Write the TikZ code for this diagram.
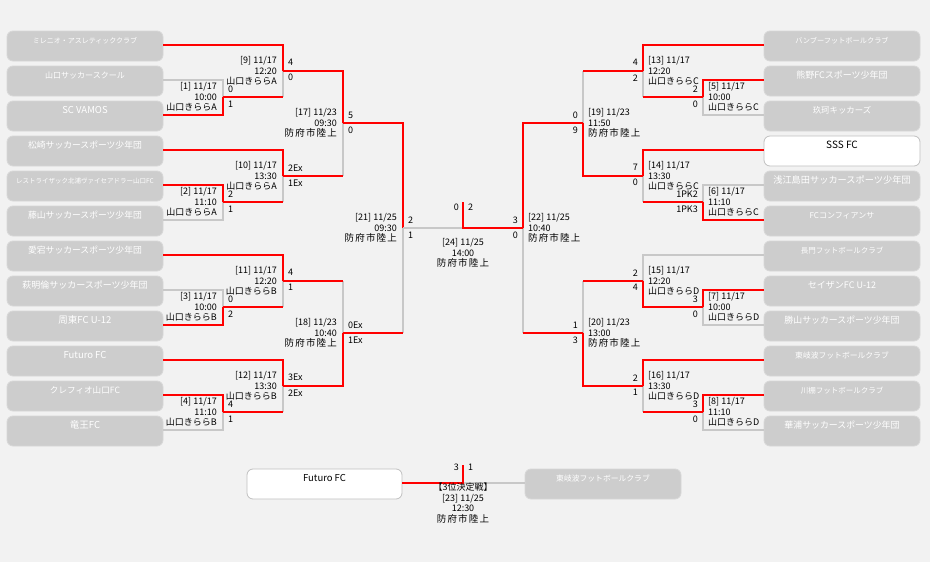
\documentclass[tikz,border=0pt]{standalone}
\usepackage{fontspec}
\setmainfont{Noto Sans CJK JP}
\newfontfamily\jpsp[LetterSpace=12]{Noto Sans CJK JP}
\usetikzlibrary{calc}
\definecolor{bg}{HTML}{F2F2F2}
\definecolor{bred}{HTML}{FF0000}
\definecolor{bgray}{HTML}{C8C8C8}
\definecolor{boxfill}{HTML}{CDCDCD}
\definecolor{boxedge}{HTML}{D8D8D8}
\definecolor{wedge}{HTML}{C0C0C0}
\newcommand\fsz[1]{\fontsize{#1}{#1}\selectfont}
\newcommand\venue{{\jpsp\fontsize{9.5}{10.5}\selectfont 防府市陸上}}
\begin{document}
\begin{tikzpicture}[x=1pt,y=-1pt,
 tbox/.style={rectangle, rounded corners=6pt, minimum width=156pt, minimum height=30pt, inner sep=0pt, text height=12pt, text depth=18pt, fill=boxfill, draw=boxedge, line width=0.8pt, text=white, font=\fsz{9.5}},
 wbox/.style={tbox, fill=white, draw=wedge, text=black},
 win/.style={draw=bred, line width=2pt},
 lose/.style={draw=bgray, line width=2pt},
 mlab/.style={inner sep=0pt, font=\fontsize{9}{10.5}\selectfont},
 mlabL/.style={mlab, anchor=east, align=right},
 mlabR/.style={mlab, anchor=west, align=left},
 sc/.style={inner sep=0pt, font=\fontsize{9}{10}\selectfont},
]
\useasboundingbox (0,0) rectangle (930,562);
\fill[bg] (0,0) rectangle (930,562);

% ---------- team boxes, left ----------
\node[tbox, font=\fsz{7}]   (L1)  at (85,46)  {ミレニオ・アスレティッククラブ};
\node[tbox, font=\fsz{8}]   (L2)  at (85,81)  {山口サッカースクール};
\node[tbox]                 (L3)  at (85,116) {SC VAMOS};
\node[tbox, font=\fsz{8.8}] (L4)  at (85,151) {松崎サッカースポーツ少年団};
\node[tbox, font=\fsz{6.5}] (L5)  at (85,186) {レストライザック北浦ヴァイセアドラー山口FC};
\node[tbox, font=\fsz{8.8}] (L6)  at (85,221) {藤山サッカースポーツ少年団};
\node[tbox, font=\fsz{8.8}] (L7)  at (85,256) {愛宕サッカースポーツ少年団};
\node[tbox, font=\fsz{9}]   (L8)  at (85,291) {萩明倫サッカースポーツ少年団};
\node[tbox]                 (L9)  at (85,326) {周東FC U-12};
\node[tbox]                 (L10) at (85,361) {Futuro FC};
\node[tbox, font=\fsz{8.6}] (L11) at (85,396) {クレフィオ山口FC};
\node[tbox]                 (L12) at (85,431) {竜王FC};
% ---------- team boxes, right ----------
\node[tbox, font=\fsz{7.2}] (R1)  at (842,46)  {バンブーフットボールクラブ};
\node[tbox, font=\fsz{9}]   (R2)  at (842,81)  {熊野FCスポーツ少年団};
\node[tbox, font=\fsz{8.4}] (R3)  at (842,116) {玖珂キッカーズ};
\node[wbox, font=\fsz{10}]  (R4)  at (842,151) {SSS FC};
\node[tbox, font=\fsz{9.2}] (R5)  at (842,186) {浅江島田サッカースポーツ少年団};
\node[tbox, font=\fsz{8}]   (R6)  at (842,221) {FCコンフィアンサ};
\node[tbox, font=\fsz{7.5}] (R7)  at (842,256) {長門フットボールクラブ};
\node[tbox, font=\fsz{9}]   (R8)  at (842,291) {セイザンFC U-12};
\node[tbox, font=\fsz{8.9}] (R9)  at (842,326) {勝山サッカースポーツ少年団};
\node[tbox, font=\fsz{7.8}] (R10) at (842,361) {東岐波フットボールクラブ};
\node[tbox, font=\fsz{7.5}] (R11) at (842,396) {川棚フットボールクラブ};
\node[tbox, font=\fsz{8.9}] (R12) at (842,431) {華浦サッカースポーツ少年団};
% 3rd place boxes
\node[wbox, minimum width=155pt] (F3) at (324.5,484) {Futuro FC};
\node[tbox, font=\fsz{7.8}]      (T3) at (603,484)   {東岐波フットボールクラブ};

% entry points
\foreach \i in {1,...,12}{
  \coordinate (eL\i) at ([yshift=1.5pt]L\i.east);
  \coordinate (eR\i) at ([yshift=1.5pt]R\i.west);
}
\coordinate (eF3) at ([yshift=1.5pt]F3.east);
\coordinate (eT3) at ([yshift=1.5pt]T3.west);

% match points
\coordinate (m1) at (223,97);   \coordinate (m2) at (223,202);
\coordinate (m3) at (223,307);  \coordinate (m4) at (223,412);
\coordinate (m9) at (283,70.75);  \coordinate (m10) at (283,175.75);
\coordinate (m11) at (283,280.75); \coordinate (m12) at (283,385.75);
\coordinate (m17) at (343,123.25); \coordinate (m18) at (343,333.25);
\coordinate (m21) at (403,228.25);
\coordinate (m5) at (703,97);   \coordinate (m6) at (703,202);
\coordinate (m7) at (703,307);  \coordinate (m8) at (703,412);
\coordinate (m13) at (643,70.75);  \coordinate (m14) at (643,175.75);
\coordinate (m15) at (643,280.75); \coordinate (m16) at (643,385.75);
\coordinate (m19) at (583,123.25); \coordinate (m20) at (583,333.25);
\coordinate (m22) at (523,228.25);
\coordinate (fc) at (463,228.25); \coordinate (ft) at (463,202);
\coordinate (tc) at (463,482.5);  \coordinate (tt) at (463,465);

% ---------- left bracket ----------
\draw[lose] (eL2) -| (m1);  \draw[win] (eL3) -| (m1);
\draw[lose] (eL6) -| (m2);  \draw[win] (eL5) -| (m2);
\draw[lose] (eL8) -| (m3);  \draw[win] (eL9) -| (m3);
\draw[lose] (eL12) -| (m4); \draw[win] (eL11) -| (m4);
\draw[lose] (m1 -| m9) -- (m9);   \draw[win] (m1) -- (m1 -| m9);   \draw[win] (eL1) -| (m9);
\draw[lose] (m2 -| m10) -- (m10); \draw[win] (m2) -- (m2 -| m10);  \draw[win] (eL4) -| (m10);
\draw[lose] (m3 -| m11) -- (m11); \draw[win] (m3) -- (m3 -| m11);  \draw[win] (eL7) -| (m11);
\draw[lose] (m4 -| m12) -- (m12); \draw[win] (m4) -- (m4 -| m12);  \draw[win] (eL10) -| (m12);
\draw[lose] (m10 -| m17) -- (m17); \draw[win] (m10) -- (m10 -| m17); \draw[win] (m9) -- (m9 -| m17) -- (m17);
\draw[lose] (m11 -| m18) -- (m18); \draw[win] (m11) -- (m11 -| m18); \draw[win] (m12) -- (m12 -| m18) -- (m18);
\draw[lose] (m18 -| m21) -- (m21); \draw[win] (m18) -- (m18 -| m21); \draw[win] (m17) -- (m17 -| m21) -- (m21);
% ---------- right bracket ----------
\draw[lose] (eR3) -| (m5);  \draw[win] (eR2) -| (m5);
\draw[lose] (eR5) -| (m6);  \draw[win] (eR6) -| (m6);
\draw[lose] (eR9) -| (m7);  \draw[win] (eR8) -| (m7);
\draw[lose] (eR12) -| (m8); \draw[win] (eR11) -| (m8);
\draw[lose] (m5 -| m13) -- (m13); \draw[win] (m5) -- (m5 -| m13); \draw[win] (eR1) -| (m13);
\draw[lose] (m6 -| m14) -- (m14); \draw[win] (m6) -- (m6 -| m14); \draw[win] (eR4) -| (m14);
\draw[lose] (eR7) -| (m15);       \draw[win] (m7) -- (m7 -| m15) -- (m15);
\draw[lose] (m8 -| m16) -- (m16); \draw[win] (m8) -- (m8 -| m16); \draw[win] (eR10) -| (m16);
\draw[lose] (m13 -| m19) -- (m19); \draw[win] (m13) -- (m13 -| m19); \draw[win] (m14) -- (m14 -| m19) -- (m19);
\draw[lose] (m15 -| m20) -- (m20); \draw[win] (m15) -- (m15 -| m20); \draw[win] (m16) -- (m16 -| m20) -- (m20);
\draw[lose] (m20 -| m22) -- (m22); \draw[win] (m20) -- (m20 -| m22); \draw[win] (m19) -- (m19 -| m22) -- (m22);
% ---------- final ----------
\draw[lose] (m21) -- (fc);
\draw[win] (m22) -- (fc) -- (ft);
% ---------- 3rd place ----------
\draw[lose] (tc) -- (eT3);
\draw[win] (eF3) -- (tc) -- (tt);

% ---------- match labels left ----------
\node[mlabL] (t1)  at ([xshift=-6pt]m1)  {[1] 11/17\\10:00\\山口きららA};
\node[mlabL] (t2)  at ([xshift=-6pt]m2)  {[2] 11/17\\11:10\\山口きららA};
\node[mlabL] (t3)  at ([xshift=-6pt]m3)  {[3] 11/17\\10:00\\山口きららB};
\node[mlabL] (t4)  at ([xshift=-6pt]m4)  {[4] 11/17\\11:10\\山口きららB};
\node[mlabL] (t9)  at ([xshift=-6pt]m9)  {[9] 11/17\\12:20\\山口きららA};
\node[mlabL] (t10) at ([xshift=-6pt]m10) {[10] 11/17\\13:30\\山口きららA};
\node[mlabL] (t11) at ([xshift=-6pt]m11) {[11] 11/17\\12:20\\山口きららB};
\node[mlabL] (t12) at ([xshift=-6pt]m12) {[12] 11/17\\13:30\\山口きららB};
\node[mlabL] (t17) at ([xshift=-6pt]m17) {[17] 11/23\\09:30\\\venue};
\node[mlabL] (t18) at ([xshift=-6pt]m18) {[18] 11/23\\10:40\\\venue};
\node[mlabL] (t21) at ([xshift=-6pt]m21) {[21] 11/25\\09:30\\\venue};
% ---------- match labels right ----------
\node[mlabR] (t5)  at ([xshift=5pt]m5)  {[5] 11/17\\10:00\\山口きららC};
\node[mlabR] (t6)  at ([xshift=5pt]m6)  {[6] 11/17\\11:10\\山口きららC};
\node[mlabR] (t7)  at ([xshift=5pt]m7)  {[7] 11/17\\10:00\\山口きららD};
\node[mlabR] (t8)  at ([xshift=5pt]m8)  {[8] 11/17\\11:10\\山口きららD};
\node[mlabR] (t13) at ([xshift=5pt]m13) {[13] 11/17\\12:20\\山口きららC};
\node[mlabR] (t14) at ([xshift=5pt]m14) {[14] 11/17\\13:30\\山口きららC};
\node[mlabR] (t15) at ([xshift=5pt]m15) {[15] 11/17\\12:20\\山口きららD};
\node[mlabR] (t16) at ([xshift=5pt]m16) {[16] 11/17\\13:30\\山口きららD};
\node[mlabR] (t19) at ([xshift=5pt]m19) {[19] 11/23\\11:50\\\venue};
\node[mlabR] (t20) at ([xshift=5pt]m20) {[20] 11/23\\13:00\\\venue};
\node[mlabR] (t22) at ([xshift=5pt]m22) {[22] 11/25\\10:40\\\venue};
\node[mlab, align=center] (t24) at (463,253) {[24] 11/25\\14:00\\\venue};
\node[mlab, align=center] (t23) at (463,503) {【3位決定戦】\\{[23] 11/25}\\12:30\\\venue};

% ---------- scores left ----------
\foreach \m/\a/\b in {m1/0/1, m2/2/1, m3/0/2, m4/4/1, m9/4/0, m10/2Ex/1Ex, m11/4/1, m12/3Ex/2Ex, m17/5/0, m18/0Ex/1Ex, m21/2/1}{
  \node[sc, anchor=west] (\m a) at ([xshift=5pt,yshift=8pt]\m) {\a};
  \node[sc, anchor=west] (\m b) at ([xshift=5pt,yshift=-7pt]\m) {\b};
}
% ---------- scores right ----------
\foreach \m/\a/\b in {m5/2/0, m6/1PK2/1PK3, m7/3/0, m8/3/0, m13/4/2, m14/7/0, m15/2/4, m16/2/1, m19/0/9, m20/1/3, m22/3/0}{
  \node[sc, anchor=east] (\m a) at ([xshift=-5pt,yshift=8pt]\m) {\a};
  \node[sc, anchor=east] (\m b) at ([xshift=-5pt,yshift=-7pt]\m) {\b};
}
\node[sc, anchor=east] (fsa) at ([xshift=-4pt,yshift=-5pt]ft) {0};
\node[sc, anchor=west] (fsb) at ([xshift=5pt,yshift=-5pt]ft) {2};
\node[sc, anchor=east] (tsa) at ([xshift=-4pt,yshift=-2pt]tt) {3};
\node[sc, anchor=west] (tsb) at ([xshift=5pt,yshift=-2pt]tt) {1};
\end{tikzpicture}
\end{document}
